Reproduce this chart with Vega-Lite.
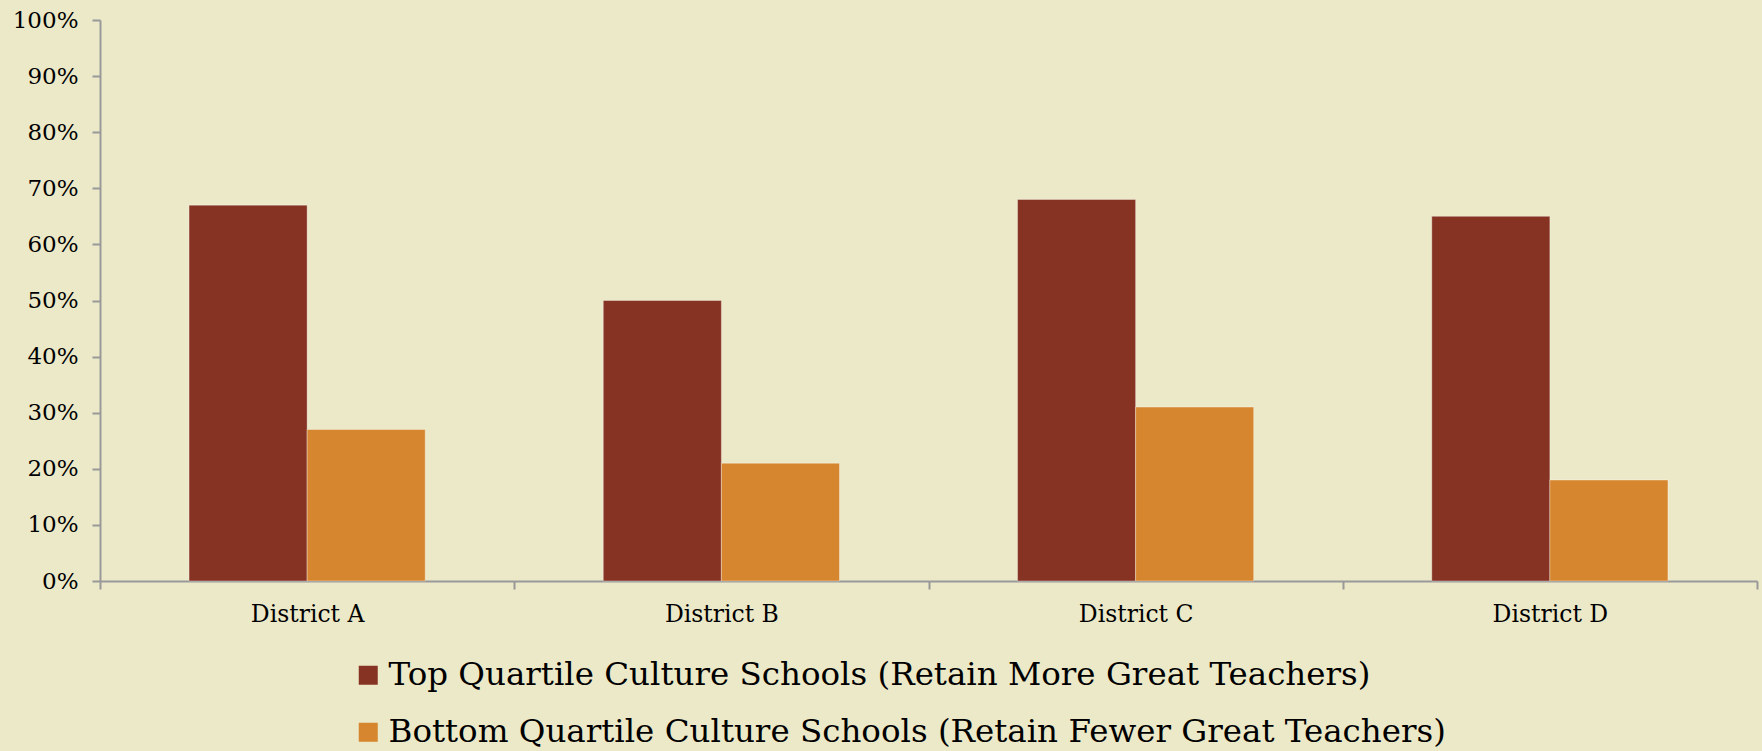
{
  "$schema": "https://vega.github.io/schema/vega-lite/v6.json",
  "autosize": "none",
  "width": 1657,
  "height": 561,
  "padding": {"left": 100, "top": 20, "right": 5, "bottom": 170},
  "background": "#ECE9C8",
  "config": {
    "view": {"stroke": null},
    "font": "DejaVu Serif",
    "axis": {"labelFont": "DejaVu Serif", "labelColor": "#000000"}
  },
  "data": {
    "values": [
      {"district": "District A", "group": "Top Quartile Culture Schools (Retain More Great Teachers)", "share": 0.67},
      {"district": "District A", "group": "Bottom Quartile Culture Schools (Retain Fewer Great Teachers)", "share": 0.27},
      {"district": "District B", "group": "Top Quartile Culture Schools (Retain More Great Teachers)", "share": 0.50},
      {"district": "District B", "group": "Bottom Quartile Culture Schools (Retain Fewer Great Teachers)", "share": 0.21},
      {"district": "District C", "group": "Top Quartile Culture Schools (Retain More Great Teachers)", "share": 0.68},
      {"district": "District C", "group": "Bottom Quartile Culture Schools (Retain Fewer Great Teachers)", "share": 0.31},
      {"district": "District D", "group": "Top Quartile Culture Schools (Retain More Great Teachers)", "share": 0.65},
      {"district": "District D", "group": "Bottom Quartile Culture Schools (Retain Fewer Great Teachers)", "share": 0.18}
    ]
  },
  "mark": {"type": "bar", "strokeWidth": 1, "strokeOpacity": 0.35, "stroke": "#ffffff"},
  "encoding": {
    "x": {
      "field": "district",
      "type": "nominal",
      "scale": {"paddingInner": 0, "paddingOuter": 0},
      "axis": {
        "title": null,
        "labelAngle": 0,
        "labelFontSize": 23.5,
        "labelPadding": 13,
        "tickBand": "extent",
        "tickSize": 8,
        "domainColor": "#999999",
        "tickColor": "#999999",
        "domainWidth": 2,
        "tickWidth": 2
      }
    },
    "xOffset": {
      "field": "group",
      "type": "nominal",
      "sort": [
        "Top Quartile Culture Schools (Retain More Great Teachers)",
        "Bottom Quartile Culture Schools (Retain Fewer Great Teachers)"
      ],
      "scale": {"paddingInner": 0, "paddingOuter": 0.754}
    },
    "y": {
      "field": "share",
      "type": "quantitative",
      "scale": {"domain": [0, 1], "nice": false},
      "axis": {
        "title": null,
        "format": ".0%",
        "values": [0, 0.1, 0.2, 0.3, 0.4, 0.5, 0.6, 0.7, 0.8, 0.9, 1],
        "grid": false,
        "labelFontSize": 23,
        "labelPadding": 14,
        "tickSize": 8,
        "domainColor": "#999999",
        "tickColor": "#999999",
        "domainWidth": 2,
        "tickWidth": 2
      }
    },
    "color": {
      "field": "group",
      "type": "nominal",
      "sort": [
        "Top Quartile Culture Schools (Retain More Great Teachers)",
        "Bottom Quartile Culture Schools (Retain Fewer Great Teachers)"
      ],
      "scale": {"range": ["#863323", "#D6862E"]},
      "legend": {
        "title": null,
        "orient": "none",
        "legendX": 252,
        "legendY": 639,
        "direction": "vertical",
        "symbolType": "square",
        "symbolSize": 361,
        "symbolStrokeWidth": 0,
        "labelFontSize": 32.5,
        "labelFont": "DejaVu Serif",
        "labelColor": "#000000",
        "labelOffset": 4,
        "labelLimit": 0,
        "rowPadding": 24
      }
    }
  }
}
